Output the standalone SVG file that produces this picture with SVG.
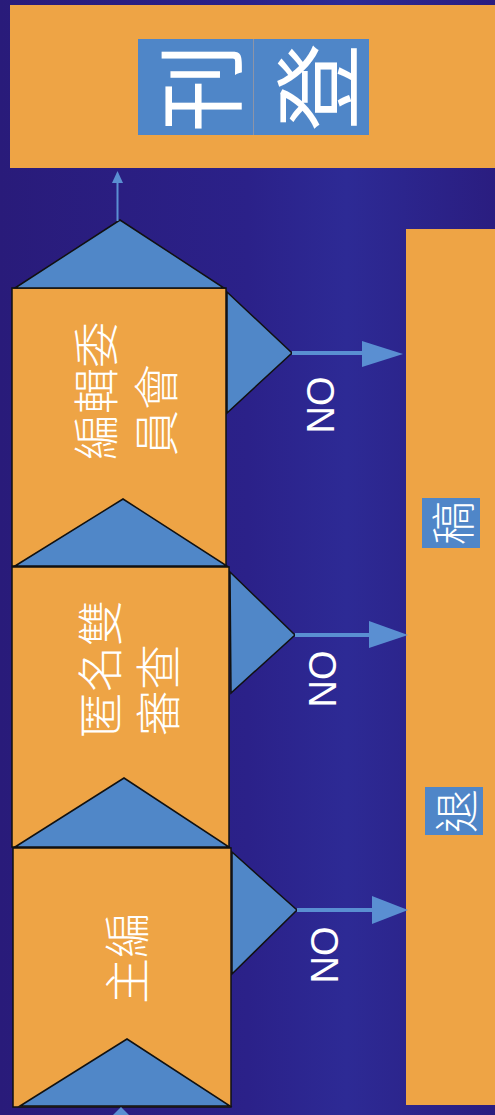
<svg xmlns="http://www.w3.org/2000/svg" width="495" height="1115" viewBox="0 0 495 1115">
  <defs>
    <linearGradient id="bg" x1="0" y1="0" x2="1" y2="0">
      <stop offset="0" stop-color="#291b7a"/>
      <stop offset="0.5" stop-color="#2b2189"/>
      <stop offset="0.7" stop-color="#2d2a95"/>
      <stop offset="1" stop-color="#2a1d80"/>
    </linearGradient>
    <style>
      .org{fill:#eea445}
      .stage{fill:#eea445;stroke:#111;stroke-width:1.5}
      .tri{fill:#5087c8;stroke:#111;stroke-width:1.5;stroke-linejoin:miter}
      .box{fill:#4f86c8}
      .cjk{font-family:"Noto Sans CJK TC","Noto Sans CJK SC",sans-serif;fill:#fff}
      .lbl{font-size:46px;font-weight:300}
      .no{font-family:"Liberation Sans",Arial,sans-serif;font-size:38px;fill:#fff}
      .ln{stroke:#5a8fd2;fill:none}
      .hd{fill:#5a8fd2}
    </style>
  </defs>
  <rect x="0" y="0" width="495" height="1115" fill="url(#bg)"/>

  <g id="publish">
    <rect class="org" x="10" y="5" width="490" height="163"/>
    <rect class="box" x="138" y="39" width="115" height="96"/>
    <rect class="box" x="254" y="39" width="115" height="96"/>
    <line x1="253.5" y1="39" x2="253.5" y2="135" stroke="#8c94a8" stroke-width="1"/>
    <text class="cjk" font-size="88" font-weight="400" text-anchor="middle" dominant-baseline="central" transform="translate(195,88) rotate(-90)">刊</text>
    <text class="cjk" font-size="88" font-weight="400" text-anchor="middle" dominant-baseline="central" transform="translate(312,87) rotate(-90)">登</text>
  </g>

  <g id="reject">
    <rect class="org" x="406" y="229" width="95" height="876"/>
    <rect class="box" x="422" y="498" width="58" height="50"/>
    <rect class="box" x="425" y="787" width="58" height="48"/>
    <text class="cjk" font-size="44" font-weight="300" text-anchor="middle" dominant-baseline="central" transform="translate(451,523) rotate(-90)">稿</text>
    <text class="cjk" font-size="44" font-weight="300" text-anchor="middle" dominant-baseline="central" transform="translate(454,811) rotate(-90)">退</text>
  </g>

  <g id="stage-editor-in-chief">
    <rect class="stage" x="13" y="848" width="218" height="259"/>
    <polygon class="tri" points="20,1106 127,1039 230,1106"/>
    <text class="cjk lbl" text-anchor="middle" dominant-baseline="central" transform="translate(124,958) rotate(-90)">主編</text>
  </g>

  <g id="stage-review">
    <rect class="stage" x="12" y="567" width="217" height="280"/>
    <polygon class="tri" points="15,847 124,778 229,847"/>
    <text class="cjk lbl" dominant-baseline="central" transform="translate(97,738) rotate(-90)">匿名雙</text>
    <text class="cjk lbl" dominant-baseline="central" transform="translate(155,736) rotate(-90)">審查</text>
  </g>

  <g id="stage-committee">
    <rect class="stage" x="12" y="288" width="214" height="278"/>
    <polygon class="tri" points="15,566 123,499 227,566"/>
    <polygon class="tri" points="15,288 120,220 224,288"/>
    <text class="cjk lbl" dominant-baseline="central" transform="translate(93,460) rotate(-90)">編輯委</text>
    <text class="cjk lbl" dominant-baseline="central" transform="translate(153,456) rotate(-90)">員會</text>
  </g>

  <g id="connectors">
    <polygon class="tri" points="227,292 292,353 227,413"/>
    <polygon class="tri" points="230,572 295,635 231,693"/>
    <polygon class="tri" points="232,852 297,910 232,974"/>
    <line class="ln" x1="292" y1="353" x2="365" y2="353" stroke-width="4"/>
    <polygon class="hd" points="362,341 403,354 362,367"/>
    <line class="ln" x1="295" y1="635" x2="372" y2="635" stroke-width="4"/>
    <polygon class="hd" points="369,621 408,635 369,648"/>
    <line class="ln" x1="297" y1="910" x2="374" y2="910" stroke-width="4"/>
    <polygon class="hd" points="372,896 408,910 372,924"/>
    <line class="ln" x1="117.5" y1="221" x2="117.5" y2="181" stroke-width="2"/>
    <polygon class="hd" points="112,183 117.5,171 123,183"/>
    <polygon class="hd" points="113,1115 121,1107 129,1115"/>
    <text class="no" text-anchor="middle" transform="translate(320,405) rotate(-90)" y="13.5">NO</text>
    <text class="no" text-anchor="middle" transform="translate(322,679) rotate(-90)" y="13.5">NO</text>
    <text class="no" text-anchor="middle" transform="translate(324,955) rotate(-90)" y="13.5">NO</text>
  </g>
</svg>
